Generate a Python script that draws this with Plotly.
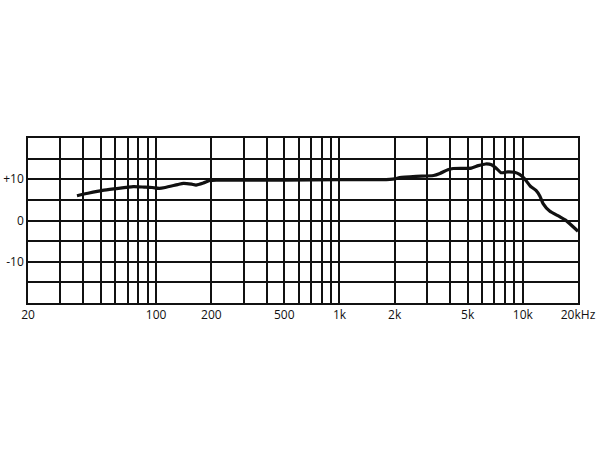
import plotly.graph_objects as go

# Frequency response (Hz, dB)
freq = [37, 42.5, 51, 60, 75, 86, 95, 104, 112, 131, 141, 156, 165, 181, 196, 215,
        300, 500, 1000, 1700, 2000, 2130, 2620, 3260, 3530, 3900, 4170, 5240, 5720,
        6270, 6750, 7270, 7600, 8270, 9000, 9600, 10230, 11000, 11800, 12400, 12900,
        14000, 15800, 17100, 20000]
db = [6.0, 6.6, 7.3, 7.7, 8.2, 8.1, 8.0, 7.8, 8.0, 8.7, 9.0, 8.8, 8.6, 9.1, 9.7, 9.8,
      9.8, 9.8, 9.9, 9.9, 10.1, 10.4, 10.7, 10.9, 11.4, 12.3, 12.6, 12.7, 13.3,
      13.7, 13.5, 12.4, 11.6, 11.8, 11.7, 11.2, 10.1, 8.3, 7.3, 5.9, 4.1,
      2.3, 1.0, 0.1, -2.6]

# grid lines and tick labels
x_grid = [20, 30, 40, 50, 60, 70, 80, 90, 100, 200, 300, 400, 500, 600, 700, 800, 900,
          1000, 2000, 3000, 4000, 5000, 6000, 7000, 8000, 9000, 10000, 20000]
x_labels = {20: "20", 100: "100", 200: "200", 500: "500", 1000: "1k", 2000: "2k",
            5000: "5k", 10000: "10k", 20000: "20kHz"}
y_grid = [-20, -15, -10, -5, 0, 5, 10, 15, 20]
y_labels = {10: "+10", 0: "0", -10: "-10"}

fig = go.Figure()
fig.add_trace(go.Scatter(x=freq, y=db, mode="lines",
                         line=dict(color="#111111", width=3.2, shape="spline", smoothing=0.6),
                         hoverinfo="skip", cliponaxis=False))

fig.update_layout(
    width=600, height=450,
    margin=dict(l=28, r=22, t=138, b=147),
    paper_bgcolor="white", plot_bgcolor="white",
    showlegend=False,
    font=dict(family="Open Sans", size=12, color="#111111"),
)
fig.update_xaxes(
    type="log", range=[1.30103, 4.30103], automargin=False,
    tickmode="array", tickvals=x_grid,
    ticktext=[x_labels.get(v, "") for v in x_grid],
    showgrid=True, gridcolor="#111111", gridwidth=1.5,
    showline=True, linecolor="#111111", linewidth=1.6, mirror=True,
    ticks="", zeroline=False,
)
fig.update_yaxes(
    range=[-20, 20], automargin=False,
    tickmode="array", tickvals=y_grid,
    ticktext=[y_labels.get(v, "") for v in y_grid],
    showgrid=True, gridcolor="#111111", gridwidth=1.5,
    showline=True, linecolor="#111111", linewidth=1.6, mirror=True,
    ticks="", zeroline=False,
)

# drop the browser's default 8px body margin so the figure fills the window
fig.write_html("out.html", config={"displayModeBar": False},
               post_script="document.body.style.margin = '0px';")
